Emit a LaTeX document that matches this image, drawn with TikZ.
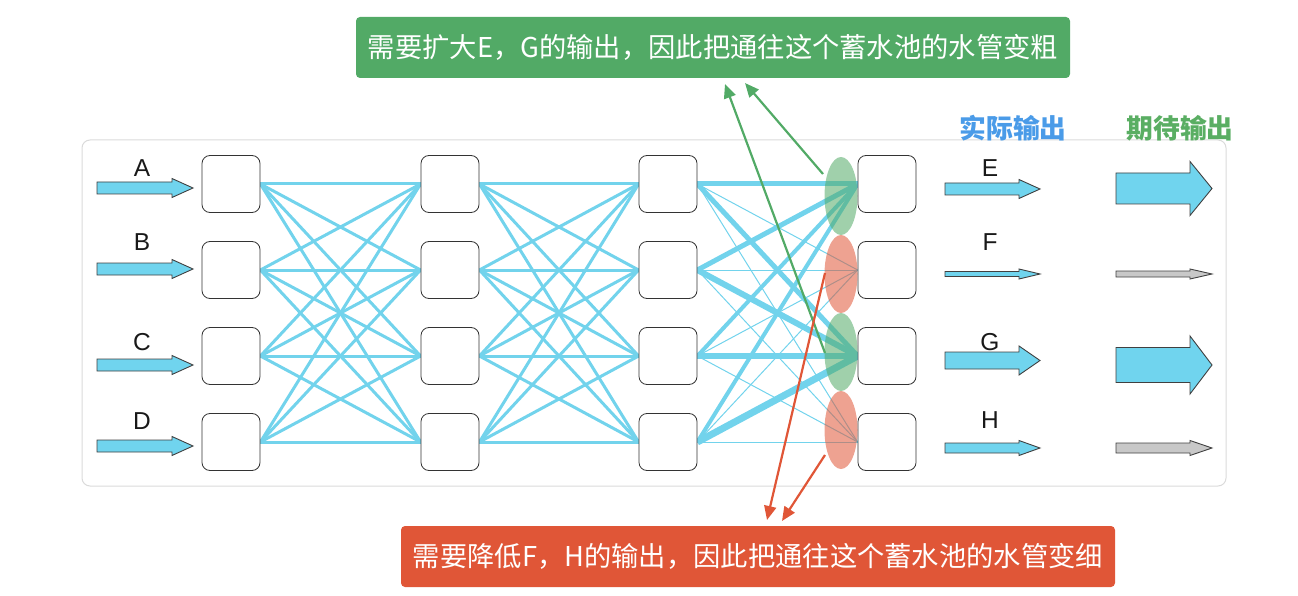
\documentclass[tikz,border=0pt]{standalone}
\usepackage{fontspec}
\setmainfont{Liberation Sans}
\newfontfamily\cjk{Noto Sans CJK SC}
\usetikzlibrary{arrows.meta,shapes.geometric}
\definecolor{pipe}{HTML}{72D3EC}
\definecolor{arrfill}{HTML}{70D4EE}
\definecolor{grayfill}{HTML}{C8C8C8}
\definecolor{okgreen}{HTML}{52AA66}
\definecolor{badred}{HTML}{E05637}
\definecolor{hdrblue}{HTML}{4A9BE8}
\definecolor{hdrgreen}{HTML}{5AAE63}
\definecolor{panelline}{HTML}{DADADA}
\pgfdeclarelayer{bg}
\pgfsetlayers{bg,main}
\newcommand\blockarr[7]{%
  \draw[arrowedge, fill=#7] (#1,#4-#5) -- (#2,#4-#5) -- (#2,#4-#6) -- (#3,#4)
    -- (#2,#4+#6) -- (#2,#4+#5) -- (#1,#4+#5) -- cycle;}
\begin{document}
\begin{tikzpicture}[x=1pt,y=-1pt,
  cell/.style={draw=black!80, line width=0.8pt, fill=white, rounded corners=8pt,
    minimum width=58pt, minimum height=57pt, inner sep=0pt},
  pipeline/.style={draw=pipe, line width=3pt},
  arrowedge/.style={draw=black!75, line width=0.9pt, line join=miter},
  letter/.style={inner sep=0pt, font=\fontsize{24.5}{24.5}\selectfont, text=black!90},
  oval/.style={ellipse, minimum width=33pt, minimum height=78pt, inner sep=0pt, opacity=0.55},
  note/.style={rounded corners=4pt, minimum width=714pt, minimum height=61pt, inner sep=0pt,
    text=white, font=\cjk\fontsize{27.3}{27.3}\selectfont},
  hdr/.style={inner sep=0pt, font=\cjk\bfseries\fontsize{26.8}{26.8}\selectfont},
  garrow/.style={draw=okgreen, line width=2.2pt, -{Triangle[length=14pt,width=12pt]}},
  rarrow/.style={draw=badred, line width=2.2pt, -{Triangle[length=14pt,width=12pt]}}]
\useasboundingbox (0,0) rectangle (1298,596);
% panel
\node[draw=panelline, line width=1pt, rounded corners=8pt, minimum width=1144pt,
  minimum height=346pt, inner sep=0pt] (panel) at (654,313) {};
% cells
\foreach \c/\x in {1/231,2/450,3/668,4/887}
  \foreach \r/\y in {1/184,2/270,3/356,4/442}
    \node[cell] (c\c r\r) at (\x,\y) {};
% connections
\begin{pgfonlayer}{bg}
\foreach \i in {1,...,4}
  \foreach \j in {1,...,4} {
    \draw[pipeline] (c1r\i.east) -- (c2r\j.west);
    \draw[pipeline] (c2r\i.east) -- (c3r\j.west);
  }
\foreach \i in {1,...,4} {
  \draw[draw=pipe, line width=1pt] (c3r\i.east) -- (c4r2.west);
  \draw[draw=pipe, line width=1pt] (c3r\i.east) -- (c4r4.west);
}
\foreach \i/\w in {1/5,2/5,3/4,4/4}
  \draw[draw=pipe, line width=\w pt] (c3r\i.east) -- (c4r1.west);
\foreach \i/\w in {1/5,2/6,3/6,4/7}
  \draw[draw=pipe, line width=\w pt] (c3r\i.east) -- (c4r3.west);
\end{pgfonlayer}
% reservoirs
\node[oval, fill=okgreen] (ovE) at (841,196) {};
\node[oval, fill=badred] (ovF) at (841,274) {};
\node[oval, fill=okgreen] (ovG) at (841,352) {};
\node[oval, fill=badred] (ovH) at (841,430) {};
% input arrows
\blockarr{97}{172}{193}{188}{6}{9.5}{arrfill}
\blockarr{97}{172}{193}{269}{6}{9.5}{arrfill}
\blockarr{97}{172}{193}{365}{6}{9.5}{arrfill}
\blockarr{97}{172}{193}{446}{6}{9.5}{arrfill}
\node[letter] (la) at (142,168.5) {A};
\node[letter] (lb) at (142,242) {B};
\node[letter] (lc) at (142,342) {C};
\node[letter] (ld) at (142,421) {D};
% actual outputs
\blockarr{945}{1019}{1040}{189}{6}{9.5}{arrfill}
\blockarr{945}{1019}{1040}{274}{2.5}{5}{arrfill}
\blockarr{945}{1019}{1040}{360.5}{8.5}{14.5}{arrfill}
\blockarr{945}{1019}{1040}{448}{5}{7.5}{arrfill}
\node[letter] (le) at (990,168) {E};
\node[letter] (lf) at (990,242) {F};
\node[letter] (lg) at (990,342) {G};
\node[letter] (lh) at (990,420) {H};
% expected outputs
\blockarr{1116}{1190}{1212}{188.5}{15.5}{27}{arrfill}
\blockarr{1116}{1190}{1212}{274}{3}{5}{grayfill}
\blockarr{1116}{1190}{1212}{365}{17.5}{29}{arrfill}
\blockarr{1116}{1190}{1212}{448}{5}{7.5}{grayfill}
% headers
\node[hdr, text=hdrblue] (h1) at (1013,128) {实际输出};
\node[hdr, text=hdrgreen] (h2) at (1180,128) {期待输出};
% notes
\node[note, fill=okgreen] (ng) at (713,47.5) {需要扩大E，G的输出，因此把通往这个蓄水池的水管变粗};
\node[note, fill=badred] (nr) at (758,556.5) {需要降低F，H的输出，因此把通往这个蓄水池的水管变细};
% annotation arrows
\coordinate (gsE) at (823,174);
\coordinate (gsG) at (825,353);
\coordinate (gt1) at (725,84);
\coordinate (gt2) at (745,83);
\coordinate (rsF) at (825,273);
\coordinate (rsH) at (825,455);
\coordinate (rt1) at (767,520);
\coordinate (rt2) at (782,521);
\draw[garrow] (gsG) -- (gt1);
\draw[garrow] (gsE) -- (gt2);
\draw[rarrow] (rsF) -- (rt1);
\draw[rarrow] (rsH) -- (rt2);
\end{tikzpicture}
\end{document}
